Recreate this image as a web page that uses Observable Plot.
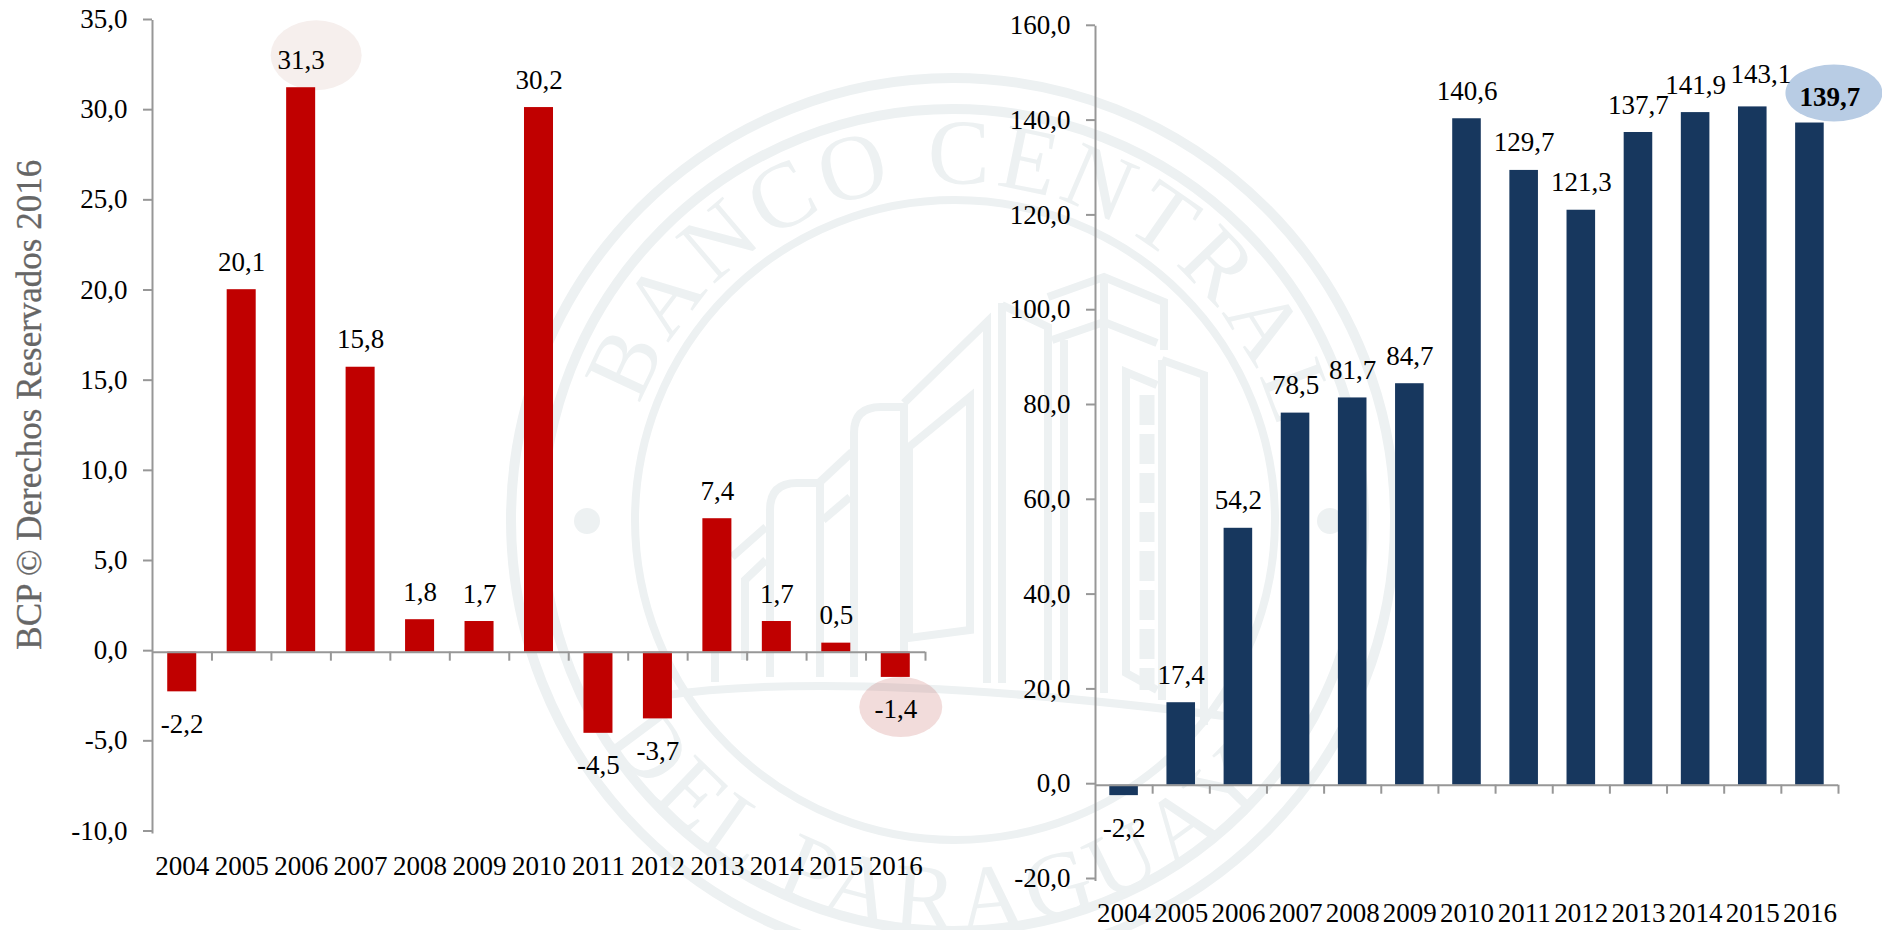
<!DOCTYPE html>
<html>
<head>
<meta charset="utf-8">
<script src="https://cdn.jsdelivr.net/npm/d3@7"></script>
<script src="https://cdn.jsdelivr.net/npm/@observablehq/plot@0.6"></script>
<style>
html,body{margin:0;padding:0;background:#fff;}
#page{position:relative;width:1882px;height:930px;overflow:hidden;background:#fff;}
#page>svg,#page>div{position:absolute;top:0;}
#wm{left:0;}
#wm .l{fill:none;stroke:#edf1f2;stroke-width:8;}
#wm text{fill:#edf1f2;font-family:"Liberation Serif",serif;font-size:93px;}
</style>
</head>
<body>
<div id="page">
<svg id="wm" width="1882" height="930" viewBox="0 0 1882 930">
  <defs>
    <path id="arcTop" d="M 640 405 A 335 335 0 0 1 1279 433"/>
    <path id="arcBot" d="M 607 737 A 410 410 0 0 0 1278 772"/>
  </defs>
  <circle class="l" cx="953" cy="520" r="442" style="stroke-width:10"/>
  <circle class="l" cx="953" cy="520" r="411" style="stroke-width:10"/>
  <circle class="l" cx="955" cy="520" r="320"/>
  <circle cx="587" cy="521" r="13" fill="#edf1f2"/>
  <circle cx="1330" cy="521" r="13" fill="#edf1f2"/>
  <text><textPath href="#arcTop" textLength="845" lengthAdjust="spacing">BANCO CENTRAL</textPath></text>
  <text><textPath href="#arcBot" textLength="775" lengthAdjust="spacing">DEL PARAGUAY</textPath></text>
  <path class="l" d="M 660 696 Q 850 668 1240 718"/>
  <path class="l" d="M 770 677 V 510 Q 770 483 797 483 H 820 V 677"/>
  <path class="l" d="M 732 557 L 766 527 M 745 660 V 580 L 766 560 M 715 650 V 682"/>
  <path class="l" d="M 820 482 L 852 452 M 823 520 L 850 497"/>
  <path class="l" d="M 854 677 V 433 Q 854 407 881 407 H 904 V 677"/>
  <path class="l" d="M 904 403 L 987 322 V 683 M 1002 303 V 683"/>
  <path class="l" d="M 909 447 L 970 397 V 630 L 909 638 Z"/>
  <path class="l" d="M 1002 305 L 1048 327 V 680 M 1064 340 V 680"/>
  <path class="l" d="M 1048 297 L 1104 277 L 1164 302 V 350 M 1052 340 L 1104 322 L 1157 343"/>
  <path class="l" d="M 1104 277 V 693 M 1162 360 L 1204 375 V 725 M 1162 360 V 700"/>
  <path class="l" d="M 1157 385 L 1126 372 V 673 L 1157 690"/>
  <path class="l" style="stroke-width:15;stroke-dasharray:30 9" d="M 1147 395 V 690"/>
</svg>
<div id="left" style="left:0"></div>
<div id="right" style="left:940px"></div>
</div>
<script>
const years = [2004,2005,2006,2007,2008,2009,2010,2011,2012,2013,2014,2015,2016];
const varAnual = [-2.2,20.1,31.3,15.8,1.8,1.7,30.2,-4.5,-3.7,7.4,1.7,0.5,-1.4];
const acumulado = [-2.2,17.4,54.2,78.5,81.7,84.7,140.6,129.7,121.3,137.7,141.9,143.1,139.7];
const ticksLeft = [-10,-5,0,5,10,15,20,25,30,35];
const ticksRight = [-20,0,20,40,60,80,100,120,140,160];
const credit = "BCP © Derechos Reservados 2016";

const fmt = d => d.toFixed(1).replace(".", ",");
const axisColor = "#979797";
const font = '"Liberation Serif", serif';

function ellipse(year, value, o) {
  return (index, scales, values, dims, context) => {
    const el = context.document.createElementNS("http://www.w3.org/2000/svg", "ellipse");
    const bw = scales.x.bandwidth ? scales.x.bandwidth() : 0;
    el.setAttribute("cx", scales.x(year) + bw / 2 + o.dx);
    el.setAttribute("cy", scales.y(value) + o.dy);
    el.setAttribute("rx", o.rx);
    el.setAttribute("ry", o.ry);
    el.setAttribute("fill", o.fill);
    if (o.opacity) el.setAttribute("fill-opacity", o.opacity);
    return el;
  };
}

function chart({values, domain, ticks, width, margins, padding, color, halfStep, tickDepth, extra, plain}) {
  const data = years.map((year, i) => ({year, value: values[i]}));
  const shown = data.filter(d => !plain.has(d.year));
  return Plot.plot({
    width, height: 930,
    marginLeft: margins.left, marginRight: margins.right, marginTop: margins.top, marginBottom: margins.bottom,
    style: {background: "transparent", fontFamily: font, fontSize: "27px", color: "#000", overflow: "visible"},
    x: {type: "band", domain: years, paddingInner: padding, paddingOuter: padding / 2, align: 0.5, round: false, label: null},
    y: {domain, label: null},
    marks: [
      ...extra.before,
      Plot.barY(data, {x: "year", y: "value", fill: color}),
      Plot.frame({anchor: "left", stroke: axisColor, strokeWidth: 2}),
      Plot.ruleY([0], {stroke: axisColor, strokeWidth: 2}),
      Plot.ruleX(years, {x: d => d, y1: 0, y2: tickDepth, dx: halfStep, stroke: axisColor, strokeWidth: 2}),
      Plot.axisY(ticks, {tickFormat: fmt, tickSize: 9, tickPadding: 16, stroke: axisColor, strokeWidth: 2, label: null, dy: -1.5}),
      Plot.axisX(years, {tickSize: 0, tickPadding: 23, tickFormat: d => String(d), label: null}),
      Plot.text(shown.filter(d => d.value >= 0), {x: "year", y: "value", text: d => fmt(d.value), lineAnchor: "bottom", dy: -19, fill: "#000"}),
      Plot.text(shown.filter(d => d.value < 0), {x: "year", y: "value", text: d => fmt(d.value), lineAnchor: "bottom", dy: 41, fill: "#000"}),
      ...extra.after(data)
    ]
  });
}

const left = chart({
  values: varAnual, domain: [-10, 35], ticks: ticksLeft, width: 940,
  margins: {left: 152, right: 15, top: 20.5, bottom: 98},
  padding: 0.512, color: "#c00000", halfStep: 29.73, tickDepth: -0.5, plain: new Set(),
  extra: {
    before: [
      ellipse(2006, 31.3, {dx: 15.5, dy: -32, rx: 45.5, ry: 35, fill: "#f6efed"}),
      ellipse(2016, -1.4, {dx: 5.5, dy: 30, rx: 41.5, ry: 30, fill: "#c0504d", opacity: 0.2})
    ],
    after: () => [
      Plot.text([credit], {frameAnchor: "left", textAnchor: "middle", dx: -123, dy: -22, rotate: -90, fontSize: 35, fill: "#666666", stroke: "#666666", strokeWidth: 0.3})
    ]
  }
});

const right = chart({
  values: acumulado, domain: [-20, 160], ticks: ticksRight, width: 942,
  margins: {left: 155, right: 44, top: 26.3, bottom: 50.5},
  padding: 0.5, color: "#17375e", halfStep: 28.58, tickDepth: -1.9, plain: new Set([2015, 2016]),
  extra: {
    before: [
      ellipse(2016, 139.7, {dx: 24.5, dy: -29.5, rx: 48.5, ry: 28.5, fill: "#b8cce4"})
    ],
    after: data => [
      Plot.text(data.filter(d => d.year === 2015), {x: "year", y: "value", text: d => fmt(d.value), lineAnchor: "bottom", dx: 8, dy: -24, fill: "#000"}),
      Plot.text(data.filter(d => d.year === 2016), {x: "year", y: "value", text: d => fmt(d.value), lineAnchor: "bottom", dx: 20, dy: -17, fontWeight: "bold", fill: "#000"})
    ]
  }
});

document.getElementById("left").appendChild(left);
document.getElementById("right").appendChild(right);
</script>
</body>
</html>
